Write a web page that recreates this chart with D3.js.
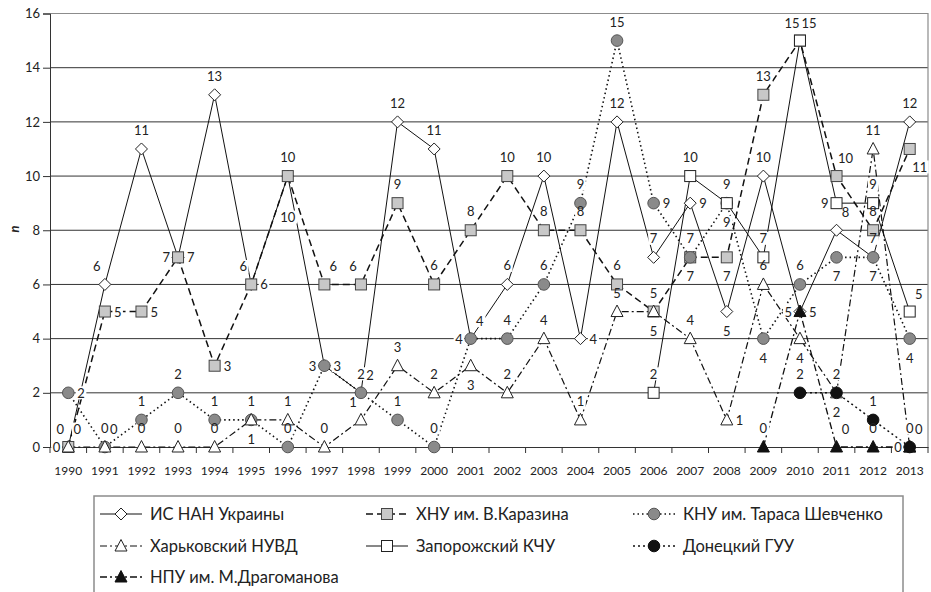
<!DOCTYPE html>
<html><head><meta charset="utf-8">
<script src="https://cdn.jsdelivr.net/npm/d3@7"></script>
<style>
body{margin:0;background:#fff}
svg{display:block}
text{font-family:Lato,"Open Sans",sans-serif;fill:#222}
</style>
</head><body>
<svg id="chart" width="931" height="592"></svg>
<script>
// ---------- data ----------
const years = ["1990","1991","1992","1993","1994","1995","1996","1997","1998","1999","2000","2001",
               "2002","2003","2004","2005","2006","2007","2008","2009","2010","2011","2012","2013"];
const yTicks = [0,2,4,6,8,10,12,14,16];
const seriesNames = ["ИС НАН Украины","ХНУ им. В.Каразина","КНУ им. Тараса Шевченко",
                     "Харьковский НУВД","Запорожский КЧУ","Донецкий ГУУ","НПУ им. М.Драгоманова"];
const isNanUkr      = [0,6,11,7,13,6,10,3,2,12,11,4,6,10,4,12,7,9,5,10,5,8,7,12];
const hnuKarazin    = [0,5,5,7,3,6,10,6,6,9,6,8,10,8,8,6,5,7,7,13,15,10,8,11];
const knuShevchenko = [2,0,1,2,1,1,0,3,2,1,0,4,4,6,9,15,9,7,9,4,6,7,7,4];
const kharkivNuvd   = [0,0,0,0,0,1,1,0,1,3,2,3,2,4,1,5,5,4,1,6,4,2,11,0];
const zaporKchu     = [null,null,null,null,null,null,null,null,null,null,null,null,
                       null,null,null,null,2,10,9,7,15,9,9,5];
const donetskGuu    = [null,null,null,null,null,null,null,null,null,null,null,null,
                       null,null,null,null,null,null,null,null,2,2,1,0];
const npuDragomanov = [null,null,null,null,null,null,null,null,null,null,null,null,
                       null,null,null,null,null,null,null,0,5,0,0,0];

// label placement codes (layout only)
const lpIs   = ["tl","tl","t","l","t","tl","bb","l","t","t","t","l","t","t","r","t","t","r","b","t","l","tr","t","t"];
const lpHnu  = ["l","r","r","r","r","r","t","tr","tl","t","t","t","t","t","t","t","t","t","b","t","tl","tr","t","br"];
const lpKnu  = ["r","t","t","t","t","t","t","r","tr","t","t","tr","t","t","t","t","r","b","b","b","t","b","b","b"];
const lpNuvd = ["tr","tr","t","t","t","b","t","t","tl","t","t","b","t","t","t","t","b","t","r","t","b","b","t","tr"];
const lpZap  = [null,null,null,null,null,null,null,null,null,null,null,null,null,null,null,null,"t","t","t","t","tr","l","t","tr"];
const lpDon  = [null,null,null,null,null,null,null,null,null,null,null,null,null,null,null,null,null,null,null,null,"t","t","t","t"];
const lpNpu  = [null,null,null,null,null,null,null,null,null,null,null,null,null,null,null,null,null,null,null,"t","r","tr","t","l"];

// ---------- styles ----------
const styles = [
  {vals:isNanUkr,      lp:lpIs,   marker:"diamond",  fill:"#fff",    mstroke:"#222", dash:null,        lw:1},
  {vals:hnuKarazin,    lp:lpHnu,  marker:"square",   fill:"#c8c8c8", mstroke:"#444", dash:"7,4",       lw:1.5},
  {vals:knuShevchenko, lp:lpKnu,  marker:"circle",   fill:"#8a8a8a", mstroke:"#555", dash:"1.5,3",     lw:1.6},
  {vals:kharkivNuvd,   lp:lpNuvd, marker:"triangle", fill:"#fff",    mstroke:"#222", dash:"7,3,2,3",   lw:1.2},
  {vals:zaporKchu,     lp:lpZap,  marker:"square",   fill:"#fff",    mstroke:"#222", dash:null,        lw:1},
  {vals:donetskGuu,    lp:lpDon,  marker:"circle",   fill:"#111",    mstroke:"#111", dash:"2,3",       lw:1.5},
  {vals:npuDragomanov, lp:lpNpu,  marker:"triangle", fill:"#111",    mstroke:"#111", dash:"7,3,2,3",   lw:1.3}
];

const svg = d3.select("#chart");
const m = {l:50, r:928, t:13.5, b:447};
const x = d3.scaleBand().domain(years).range([m.l, m.r]).paddingInner(0).paddingOuter(0);
const cx = d => x(d) + x.bandwidth()/2;
const y = d3.scaleLinear().domain([0,16]).range([m.b, m.t]);

// gridlines
svg.append("g").selectAll("line").data(yTicks.filter(v=>v>0 && v<16)).join("line")
  .attr("x1", m.l).attr("x2", m.r).attr("y1", d=>y(d)).attr("y2", d=>y(d))
  .attr("stroke","#333").attr("stroke-width",1);
// plot frame top/right
svg.append("path").attr("d",`M${m.l},${y(16)}H${m.r}V${m.b}`).attr("fill","none")
  .attr("stroke","#8c8c8c").attr("stroke-width",1.2);

// y axis
const yAxis = d3.axisLeft(y).tickValues(yTicks).tickSize(7).tickPadding(3).tickFormat(d3.format("d"));
const gy = svg.append("g").attr("transform",`translate(${m.l},0)`).call(yAxis);
gy.select(".domain").attr("stroke","#333");
gy.selectAll(".tick line").attr("stroke","#333");
gy.selectAll("text").style("font-size","13px").attr("fill","#222");

// x axis (labels at centers, ticks at boundaries)
const xAxis = d3.axisBottom(x).tickSize(0).tickPadding(19);
const gx = svg.append("g").attr("transform",`translate(0,${m.b})`).call(xAxis);
gx.select(".domain").attr("stroke","#333");
gx.selectAll("text").style("font-size","12px").attr("fill","#222");
const bounds = years.map(d=>x(d)).concat([m.r]);
svg.append("g").selectAll("line").data(bounds).join("line")
  .attr("x1",d=>d).attr("x2",d=>d).attr("y1",m.b).attr("y2",m.b+6)
  .attr("stroke","#333");

// axis title
svg.append("text").attr("transform","translate(14,229) rotate(-90)")
  .attr("text-anchor","middle").attr("dominant-baseline","central")
  .style("font-size","13px").style("font-weight","bold").style("font-style","italic").text("n");

// marker drawer
function drawMarker(g, type, fill, stroke){
  if(type==="diamond") g.append("path").attr("d","M0,-6L6,0L0,6L-6,0Z");
  else if(type==="square") g.append("rect").attr("x",-5.5).attr("y",-5.5).attr("width",11).attr("height",11);
  else if(type==="circle") g.append("circle").attr("r",5.8);
  else if(type==="triangle") g.append("path").attr("d","M0,-6.5L6,5L-6,5Z");
  g.selectAll("*").attr("fill",fill).attr("stroke",stroke).attr("stroke-width",1);
}

// layers: lines -> label backgrounds -> markers -> label text
const lineLayer = svg.append("g");
const bgLayer = svg.append("g");
const markerLayer = svg.append("g");
const txtLayer = svg.append("g");

const line = d3.line().defined(d=>d.v!=null).x(d=>cx(d.yr)).y(d=>y(d.v));
styles.forEach((s,i)=>{
  const pts = years.map((yr,k)=>({yr, v:s.vals[k]}));
  lineLayer.append("path").datum(pts).attr("d",line).attr("fill","none")
    .attr("stroke","#111").attr("stroke-width",s.lw)
    .attr("stroke-dasharray",s.dash);
  const mg0 = markerLayer.append("g");
  pts.filter(p=>p.v!=null).forEach(p=>{
    const mg = mg0.append("g").attr("transform",`translate(${cx(p.yr)},${y(p.v)})`);
    drawMarker(mg, s.marker, s.fill, s.mstroke);
  });
});

// data labels
const off = {t:[0,-19,"middle"], b:[0,19,"middle"], l:[-8,0,"end"], r:[9,0,"start"],
             tl:[-8,-18,"middle"], tr:[9,-18,"middle"], bl:[-8,18,"middle"], br:[10,18,"middle"],
             bb:[0,41,"middle"]};
styles.forEach(s=>{
  years.forEach((yr,k)=>{
    const v = s.vals[k]; if(v==null) return;
    const o = off[s.lp[k]||"t"];
    const gx0 = cx(yr)+o[0], gy0 = y(v)+o[1];
    const t = txtLayer.append("text").attr("x",gx0).attr("y",gy0)
      .attr("text-anchor",o[2]).attr("dominant-baseline","central")
      .style("font-size","13px").text(v);
    const bb = t.node().getBBox();
    bgLayer.append("rect").attr("x",bb.x-1.5).attr("y",bb.y+1.5).attr("width",bb.width+3).attr("height",bb.height-3)
      .attr("fill","#fff");
  });
});

// legend
const lg = svg.append("g");
lg.append("rect").attr("x",94).attr("y",496).attr("width",809).attr("height",110)
  .attr("fill","#fff").attr("stroke","#8c8c8c").attr("stroke-width",1.5);
const colX = [150,416,683], rowY = [514,546,577];
seriesNames.forEach((name,i)=>{
  const s = styles[i];
  const tx = colX[i%3], ty = rowY[Math.floor(i/3)];
  const it = lg.append("g");
  it.append("line").attr("x1",tx-50).attr("x2",tx-8).attr("y1",ty).attr("y2",ty)
    .attr("stroke","#111").attr("stroke-width",s.lw).attr("stroke-dasharray",s.dash);
  const mg = it.append("g").attr("transform",`translate(${tx-29},${ty})`);
  drawMarker(mg, s.marker, s.fill, s.mstroke);
  it.append("text").attr("x",tx).attr("y",ty).attr("dominant-baseline","central")
    .style("font-size","16.5px").text(name);
});
</script>
</body></html>
